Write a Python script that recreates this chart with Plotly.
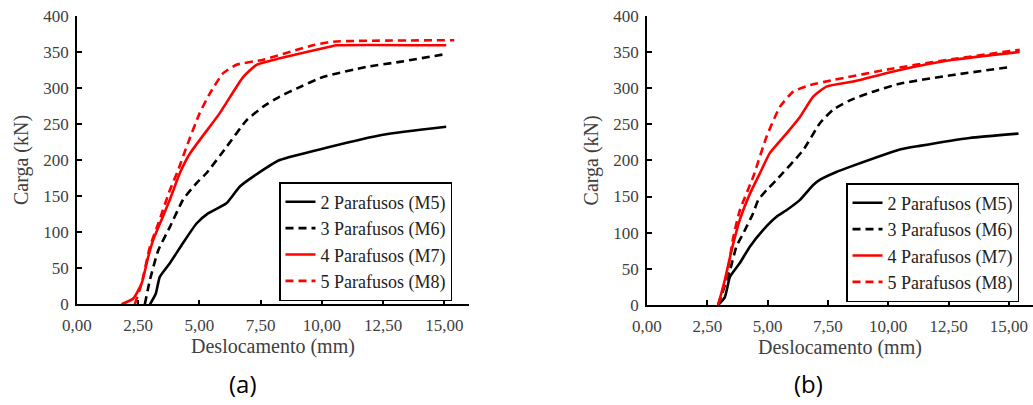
import plotly.graph_objects as go

# ---------------- data ----------------
names = ["2 Parafusos (M5)", "3 Parafusos (M6)", "4 Parafusos (M7)", "5 Parafusos (M8)"]

# plot (a)
a_m5_x = [2.98, 3.22, 3.38, 3.79, 4.33, 4.88, 5.35, 6.10, 6.64, 7.19, 8.28, 10.30, 12.49, 15.07]
a_m5_y = [0, 15, 38, 57, 85, 112, 126, 140, 163, 177, 200, 218, 235, 246]
a_m6_x = [2.77, 2.98, 3.32, 3.79, 4.33, 4.88, 5.29, 6.10, 6.92, 7.60, 8.28, 8.96, 10.04, 11.80, 13.17, 15.07]
a_m6_y = [0, 34, 75, 107, 145, 168, 182, 218, 255, 274, 288, 299, 315, 329, 336, 347]
a_m7_x = [1.82, 2.30, 2.64, 2.91, 3.11, 3.45, 3.79, 4.20, 4.61, 5.83, 6.78, 7.33, 8.28, 10.31, 10.60, 15.07]
a_m7_y = [0, 8, 29, 66, 89, 117, 145, 182, 209, 265, 315, 332, 341, 357, 359, 359]
a_m8_x = [2.36, 2.64, 2.98, 3.32, 3.79, 4.13, 4.47, 5.01, 5.42, 5.96, 6.51, 7.60, 9.63, 10.45, 15.40]
a_m8_y = [0, 29, 80, 112, 158, 186, 218, 265, 292, 320, 332, 339, 359, 364, 366]

# plot (b)
b_m5_x = [2.95, 3.23, 3.44, 3.85, 4.27, 4.82, 5.37, 5.78, 6.33, 6.89, 7.16, 7.85, 8.41, 10.48, 11.30, 13.37, 15.40]
b_m5_y = [0, 11, 39, 58, 81, 104, 122, 131, 145, 166, 173, 184, 191, 215, 220, 231, 237]
b_m6_x = [2.95, 3.44, 3.71, 3.99, 4.40, 4.61, 4.96, 5.37, 6.47, 7.16, 7.71, 8.41, 9.37, 10.48, 12.68, 15.03]
b_m6_y = [0, 48, 81, 99, 127, 145, 159, 173, 214, 251, 270, 283, 295, 306, 318, 329]
b_m7_x = [2.95, 3.23, 3.51, 3.85, 4.27, 4.68, 5.09, 5.78, 6.34, 6.89, 7.44, 8.54, 10.48, 12.68, 15.45]
b_m7_y = [0, 35, 76, 118, 154, 182, 210, 237, 260, 288, 302, 309, 325, 339, 350]
b_m8_x = [2.95, 3.30, 3.58, 3.85, 4.40, 4.96, 5.51, 6.06, 6.75, 7.71, 10.20, 12.68, 15.45]
b_m8_y = [0, 39, 94, 131, 177, 233, 274, 295, 304, 311, 327, 340, 353]

x_tickvals = [0, 2.5, 5, 7.5, 10, 12.5, 15]
x_ticktext = ["0,00", "2,50", "5,00", "7,50", "10,00", "12,50", "15,00"]
y_tickvals = [0, 50, 100, 150, 200, 250, 300, 350, 400]
y_ticktext = ["0", "50", "100", "150", "200", "250", "300", "350", "400"]

panel_labels = ["(a)", "(b)"]

# ---------------- figure ----------------
colors = ["black", "black", "red", "red"]
dashes = ["solid", "8px,5px", "solid", "8px,5px"]

fig = go.Figure()

panels = [
    ("x", "y", "legend", [(a_m5_x, a_m5_y), (a_m6_x, a_m6_y), (a_m7_x, a_m7_y), (a_m8_x, a_m8_y)]),
    ("x2", "y2", "legend2", [(b_m5_x, b_m5_y), (b_m6_x, b_m6_y), (b_m7_x, b_m7_y), (b_m8_x, b_m8_y)]),
]
for xa, ya, lg, series in panels:
    for i, (xs, ys) in enumerate(series):
        fig.add_trace(go.Scatter(
            x=xs, y=ys, mode="lines", name=names[i],
            xaxis=xa, yaxis=ya, legend=lg,
            line=dict(color=colors[i], width=2.6, dash=dashes[i], shape="spline", smoothing=0.5),
        ))

serif = "Liberation Serif"
txt_color = "#404040"
tick_font = dict(family=serif, size=17, color=txt_color)
title_font = dict(family=serif, size=20, color=txt_color)

def xaxis(domain, anchor):
    return dict(domain=domain, anchor=anchor, range=[0, 16], tickvals=x_tickvals, ticktext=x_ticktext,
                showline=True, linecolor="black", linewidth=1.5, ticks="inside", ticklen=5,
                tickwidth=1.5, tickcolor="black", showgrid=False, zeroline=False, automargin=False,
                tickfont=tick_font, ticklabelstandoff=5,
                title=dict(text="Deslocamento (mm)", font=title_font, standoff=3))

def yaxis(domain, anchor):
    return dict(domain=domain, anchor=anchor, range=[0, 400], tickvals=y_tickvals, ticktext=y_ticktext,
                showline=True, linecolor="black", linewidth=1.5, ticks="inside", ticklen=5,
                tickwidth=1.5, tickcolor="black", showgrid=False, zeroline=False, automargin=False,
                tickfont=tick_font, ticklabelstandoff=3,
                title=dict(text="Carga (kN)", font=title_font, standoff=9))

legend_common = dict(xanchor="left", yanchor="top", bgcolor="white", bordercolor="black",
                     borderwidth=1.5, font=dict(family=serif, size=18, color="#222"),
                     itemwidth=30)

label_font = dict(family="Open Sans", size=24, color="black")

fig.update_layout(
    width=1033, height=405,
    margin=dict(l=0, r=0, t=0, b=0),
    paper_bgcolor="white", plot_bgcolor="white",
    font=dict(family=serif),
    xaxis=xaxis([0.0745, 0.454], "y"),
    yaxis=yaxis([0.2486, 0.9612], "x"),
    xaxis2=xaxis([0.6263, 1.0], "y2"),
    yaxis2=yaxis([0.2469, 0.9612], "x2"),
    legend=dict(x=279 / 1033, y=(405 - 182) / 405, **legend_common),
    legend2=dict(x=846 / 1033, y=(405 - 183) / 405, **legend_common),
    annotations=[
        dict(text=panel_labels[0], x=243 / 1033, y=(405 - 383) / 405, xref="paper", yref="paper",
             xanchor="center", yanchor="middle", showarrow=False, font=label_font),
        dict(text=panel_labels[1], x=808 / 1033, y=(405 - 383) / 405, xref="paper", yref="paper",
             xanchor="center", yanchor="middle", showarrow=False, font=label_font),
    ],
)

fig.write_html("out.html", config={"displayModeBar": False},
               post_script="document.body.style.margin='0';")
